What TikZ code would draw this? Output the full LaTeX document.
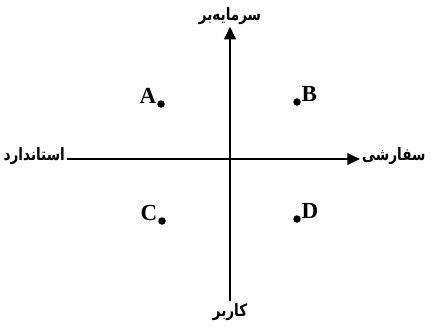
\documentclass[tikz,border=0pt]{standalone}
\usepackage{fontspec}
\setmainfont{Liberation Serif}
\newfontfamily\farsi[Script=Arabic, FakeStretch=0.8]{DejaVu Sans}
\TeXXeTstate=1
\usepackage{tikz}
\usetikzlibrary{arrows.meta,positioning}
\definecolor{cInk}{HTML}{000000}
\tikzset{
  axis/.style={line width=2.5pt, cInk},
  axisarr/.style={axis, -{Triangle[length=4.4mm, width=4mm]}},
  axlbl/.style={font=\farsi\bfseries\fontsize{17}{19}\selectfont, inner sep=2pt},
  pt/.style={circle, fill=cInk, inner sep=0pt, minimum size=7.5pt},
  ptlbl/.style={font=\bfseries\fontsize{23}{25}\selectfont, inner sep=0.5pt}
}
\begin{document}
\begin{tikzpicture}[x=1pt, y=-1pt]
\useasboundingbox (0,0) rectangle (446,329);
% ----- axis labels -----
\node[axlbl] (capital) at (230,16) {\beginR سرمایه‌بر\endR};
\node[axlbl] (labour) at (230,312) {\beginR کاربر\endR};
\node[axlbl, anchor=east] (std) at (67,156) {\beginR استاندارد\endR};
\node[axlbl, anchor=west] (cust) at (360,156) {\beginR سفارشی\endR};
% ----- axes -----
\draw[axisarr] (std.east |- 0,159) -- (cust.west |- 0,159);
\draw[axisarr] (230,301) -- (capital.south);
% ----- quadrant points -----
\node[pt] (a) at (161,104) {};
\node[pt] (b) at (297,102) {};
\node[pt] (c) at (162,221) {};
\node[pt] (d) at (297,219) {};
\node[ptlbl, anchor=south east] at (a.west) {A};
\node[ptlbl, anchor=south west] at (b.east) {B};
\node[ptlbl, anchor=south east] at (c.west) {C};
\node[ptlbl, anchor=south west] at (d.east) {D};
\end{tikzpicture}
\end{document}
